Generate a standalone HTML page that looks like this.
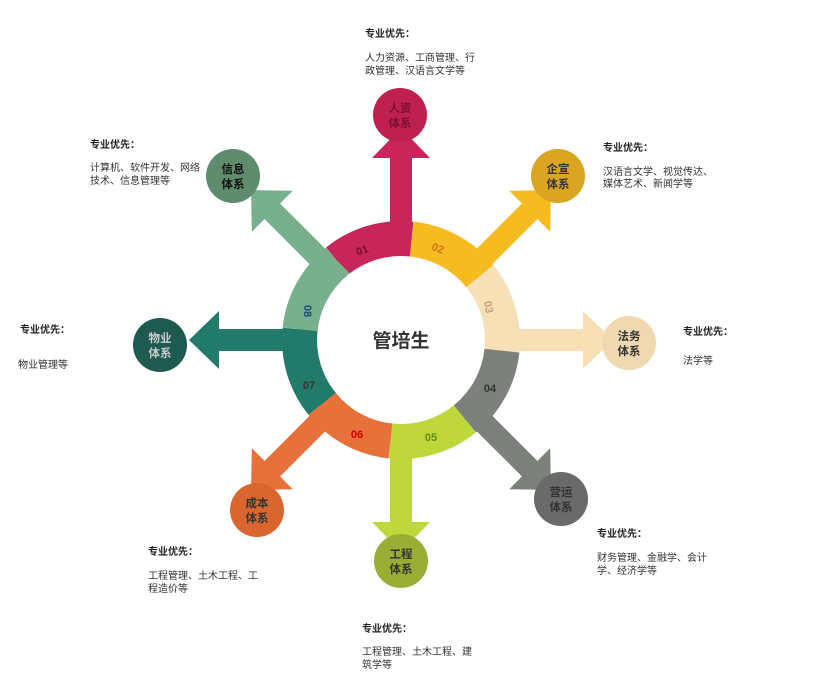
<!DOCTYPE html>
<html><head><meta charset="utf-8"><style>
html,body{margin:0;padding:0;background:#fff;}
svg{display:block;font-family:"Liberation Sans","Noto Sans CJK SC",sans-serif;}
.h{font-size:10px;font-weight:bold;fill:#222;}
.t{font-size:10px;fill:#333;}
.c{font-size:11.5px;font-weight:bold;text-anchor:middle;}
.n{font-size:11px;font-weight:bold;text-anchor:middle;}
</style></head><body>
<svg width="815" height="688" viewBox="0 0 815 688">
<defs>
<g id="seg">
<path d="M -74.9 -92.5 A 119 119 0 0 1 12.4 -118.3 L 0 0 Z"/>
<rect x="-11" y="-184" width="22" height="110"/>
<polygon points="-29,-182 29,-182 0,-212"/>
</g>
</defs>
<g transform="translate(401,340)">
<use href="#seg" transform="rotate(0)" fill="#c8265a"/>
<use href="#seg" transform="rotate(45)" fill="#f7bb22"/>
<use href="#seg" transform="rotate(90)" fill="#f8e0b6"/>
<use href="#seg" transform="rotate(135)" fill="#7c827b"/>
<use href="#seg" transform="rotate(180)" fill="#bfd73a"/>
<use href="#seg" transform="rotate(225)" fill="#e8703a"/>
<use href="#seg" transform="rotate(270)" fill="#217a6a"/>
<use href="#seg" transform="rotate(315)" fill="#78b08e"/>
<circle cx="0" cy="0" r="84" fill="#fff"/>
</g>
<text x="401" y="347" font-size="19" font-weight="bold" fill="#333" text-anchor="middle">管培生</text>
<text class="n" x="362" y="254" fill="#7a0f30" transform="rotate(-20 362 250)">01</text>
<text class="n" x="438" y="252" fill="#d07515" transform="rotate(20 438 248)">02</text>
<text class="n" x="489" y="311" fill="#c8a070" transform="rotate(80 489 307)">03</text>
<text class="n" x="490" y="392" fill="#333">04</text>
<text class="n" x="431" y="441" fill="#6a8a10">05</text>
<text class="n" x="357" y="438" fill="#c00">06</text>
<text class="n" x="309" y="389" fill="#333">07</text>
<text class="n" x="308" y="315" fill="#1a4a7a" transform="rotate(90 308 311)">08</text>

<circle cx="400" cy="115" r="27" fill="#c02050"/>
<text class="c" x="400" y="112" fill="#7a1030">人资</text><text class="c" x="400" y="127" fill="#7a1030">体系</text>
<circle cx="558" cy="176" r="27" fill="#dba521"/>
<text class="c" x="558" y="173" fill="#333">企宣</text><text class="c" x="558" y="188" fill="#333">体系</text>
<circle cx="629" cy="343" r="27" fill="#f0d8b0"/>
<text class="c" x="629" y="340" fill="#333">法务</text><text class="c" x="629" y="355" fill="#333">体系</text>
<circle cx="561" cy="499" r="27" fill="#6a6a6a"/>
<text class="c" x="561" y="496" fill="#333">营运</text><text class="c" x="561" y="511" fill="#333">体系</text>
<circle cx="401" cy="561" r="27" fill="#9aad35"/>
<text class="c" x="401" y="558" fill="#333">工程</text><text class="c" x="401" y="573" fill="#333">体系</text>
<circle cx="257" cy="510" r="27" fill="#d9652f"/>
<text class="c" x="257" y="507" fill="#333">成本</text><text class="c" x="257" y="522" fill="#333">体系</text>
<circle cx="160" cy="345" r="27" fill="#1f5a50"/>
<text class="c" x="160" y="342" fill="#ccc">物业</text><text class="c" x="160" y="357" fill="#ccc">体系</text>
<circle cx="233" cy="176" r="27" fill="#5e8c6c"/>
<text class="c" x="233" y="173" fill="#111">信息</text><text class="c" x="233" y="188" fill="#111">体系</text>

<text class="h" x="365" y="37">专业优先：</text>
<text class="t" x="365" y="61">人力资源、工商管理、行</text>
<text class="t" x="365" y="74">政管理、汉语言文学等</text>

<text class="h" x="90" y="148">专业优先：</text>
<text class="t" x="90" y="171">计算机、软件开发、网络</text>
<text class="t" x="90" y="184">技术、信息管理等</text>

<text class="h" x="603" y="151">专业优先：</text>
<text class="t" x="603" y="175">汉语言文学、视觉传达、</text>
<text class="t" x="603" y="187">媒体艺术、新闻学等</text>

<text class="h" x="20" y="333">专业优先：</text>
<text class="t" x="18" y="368">物业管理等</text>

<text class="h" x="683" y="335">专业优先：</text>
<text class="t" x="683" y="364">法学等</text>

<text class="h" x="597" y="537">专业优先：</text>
<text class="t" x="597" y="561">财务管理、金融学、会计</text>
<text class="t" x="597" y="574">学、经济学等</text>

<text class="h" x="148" y="555">专业优先：</text>
<text class="t" x="148" y="579">工程管理、土木工程、工</text>
<text class="t" x="148" y="592">程造价等</text>

<text class="h" x="362" y="632">专业优先：</text>
<text class="t" x="362" y="655">工程管理、土木工程、建</text>
<text class="t" x="362" y="668">筑学等</text>
</svg>
</body></html>
